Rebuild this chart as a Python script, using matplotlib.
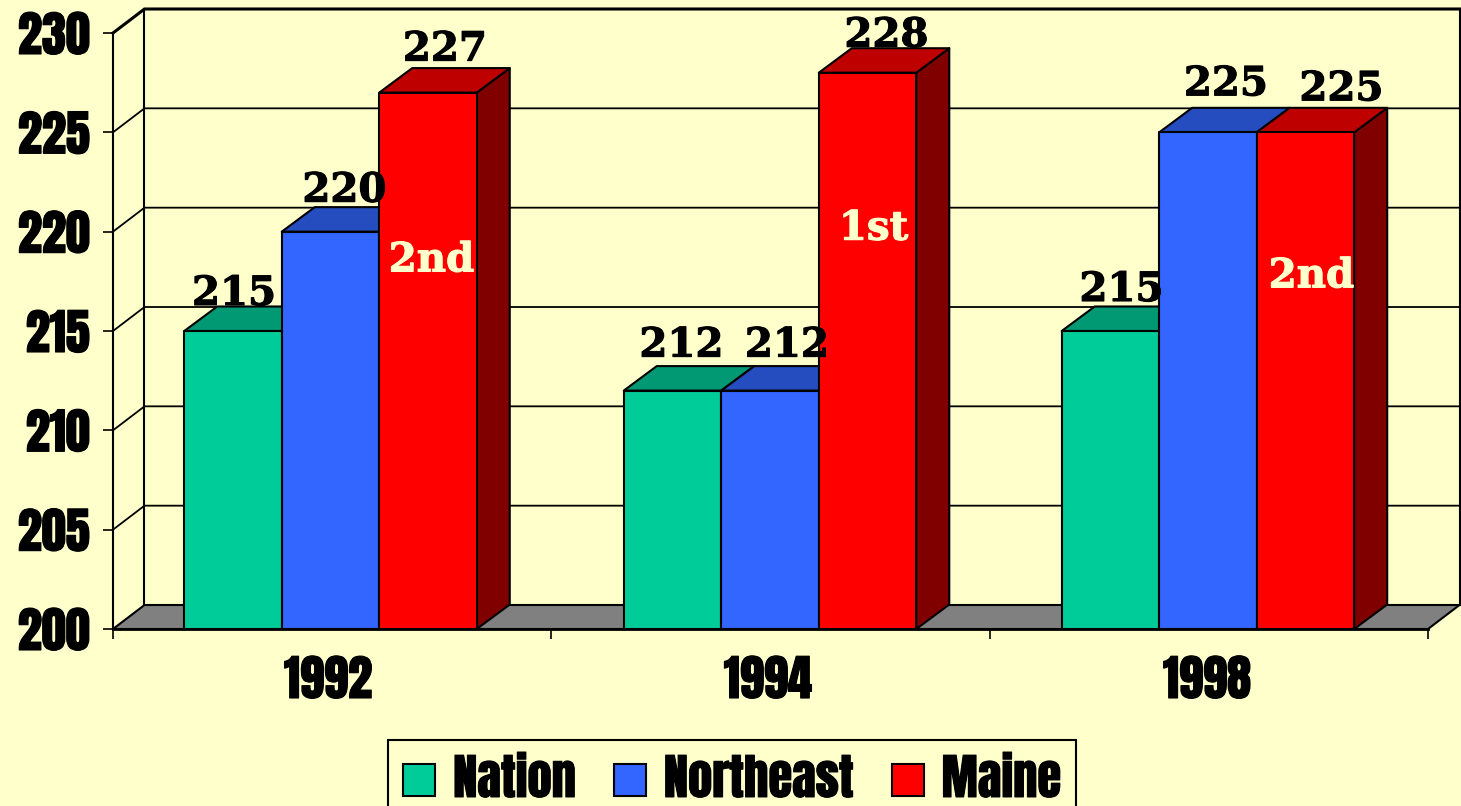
import matplotlib
matplotlib.use("Agg")
import matplotlib.pyplot as plt
from matplotlib.patches import Polygon, Patch
from matplotlib import font_manager as fm
import matplotlib.patheffects as pe

years = ["1992", "1994", "1998"]
series = ["Nation", "Northeast", "Maine"]
nation = [215, 212, 215]
northeast = [220, 212, 225]
maine = [227, 228, 225]
ranks = ["2nd", "1st", "2nd"]
rank_levels = [218.55, 220.15, 217.75]
front_colors = ["#00CC99", "#3366FF", "#FF0000"]
top_colors = ["#009973", "#264DBF", "#BF0000"]
side_colors = ["#007A5C", "#1F3D99", "#800000"]
group_centers = [-0.0038, 0.9989, 1.998]
year_positions = [-0.0095, 0.994, 1.996]
label_offsets_px = [[(1, 37), (14, 41), (17, 43)],
                    [(9, 45), (17, 45), (19, 37)],
                    [(11, 41), (18, 48), (36, 43)]]
rank_dx_px = [3.5, 6, 6]

W, H = 1461, 806
BG = "#FFFFCC"
L, R, T, B = 113, 1428, 33, 629
installed = {f.name for f in fm.fontManager.ttflist}
IMPACT = [n for n in ("Anton", "Liberation Sans") if n in installed]
SERIF = ["DejaVu Serif"]
PX = 0.72
IMPACT_SIZE = 35
impact_stroke = [pe.withStroke(linewidth=0.8, foreground="black")]

fig = plt.figure(figsize=(W / 100, H / 100), dpi=100, facecolor=BG)
ax = fig.add_axes([L / W, 1 - B / H, (R - L) / W, (B - T) / H], facecolor="none")
ax.set_xlim(-0.5, 2.5)
ax.set_ylim(200, 230)
ux = (R - L) / 3
uy = (B - T) / 30
wall_dx, wall_dy = 31.5 / ux, 24 / uy
bar_dx, bar_dy = 33 / ux, 24.5 / uy
bar_w = 97.5 / ux
lw = 1.5

x0, x1, y0, y1 = -0.5, 2.5, 200, 230
ax.add_patch(Polygon([(x0, y0), (x1, y0), (x1 + wall_dx, y0 + wall_dy), (x0 + wall_dx, y0 + wall_dy)],
                     closed=True, fc="#808080", ec="black", lw=lw, clip_on=False, zorder=1.5))
for v in range(205, 231, 5):
    ax.plot([x0, x0 + wall_dx, x1 + wall_dx], [v, v + wall_dy, v + wall_dy],
            color="black", lw=2.2 if v == 230 else 1.3, clip_on=False, zorder=1)
ax.plot([x0 + wall_dx] * 2, [y0 + wall_dy, y1 + wall_dy], color="black", lw=lw, clip_on=False, zorder=1)
ax.plot([x1 + wall_dx] * 2, [y0 + wall_dy, y1 + wall_dy], color="black", lw=lw, clip_on=False, zorder=1)

table = [nation, northeast, maine]
z = 3
for g in range(len(years)):
    for s in range(len(series)):
        v = table[s][g]
        a = group_centers[g] + (s - 1.5) * bar_w
        b = a + bar_w
        kw = dict(closed=True, ec="black", lw=lw, clip_on=False, joinstyle="round")
        ax.add_patch(Polygon([(b, y0), (b + bar_dx, y0 + bar_dy), (b + bar_dx, v + bar_dy), (b, v)],
                             fc=side_colors[s], zorder=z, **kw))
        ax.add_patch(Polygon([(a, v), (b, v), (b + bar_dx, v + bar_dy), (a + bar_dx, v + bar_dy)],
                             fc=top_colors[s], zorder=z, **kw))
        ax.add_patch(Polygon([(a, y0), (b, y0), (b, v), (a, v)],
                             fc=front_colors[s], zorder=z + 0.1, **kw))
        z += 0.2

serif_stroke = lambda col: [pe.withStroke(linewidth=0.8, foreground=col)]
for g in range(len(years)):
    for s in range(len(series)):
        v = table[s][g]
        c = group_centers[g] + (s - 1) * bar_w
        ox, oy = label_offsets_px[g][s]
        ax.annotate(str(v), (c, v), xytext=(ox * PX, oy * PX), textcoords="offset points",
                    ha="center", va="center", family=SERIF, weight="bold", fontsize=29,
                    color="black", zorder=20, annotation_clip=False, path_effects=serif_stroke("black"))
    ax.annotate(ranks[g], (group_centers[g] + bar_w, rank_levels[g]), xytext=(rank_dx_px[g] * PX, 0),
                textcoords="offset points", ha="center", va="center", family=SERIF,
                weight="bold", fontsize=29, color="#FFFFCC", zorder=20, path_effects=serif_stroke("#FFFFCC"))

for sp in ("top", "right"):
    ax.spines[sp].set_visible(False)
for sp in ("left", "bottom"):
    ax.spines[sp].set_linewidth(lw)
    ax.spines[sp].set_zorder(2)
ax.spines["bottom"].set_zorder(15)
ax.spines["bottom"].set_linewidth(2)

ax.set_yticks(range(200, 231, 5))
ax.set_xticks([-0.5, 0.5, 1.5, 2.5])
ax.set_xticklabels([])
ax.set_xticks(year_positions, minor=True)
ax.set_xticklabels(years, minor=True)
ax.tick_params(axis="x", which="major", length=10 * PX, width=1.2)
ax.tick_params(axis="x", which="minor", length=0, pad=27 * PX)
ax.tick_params(axis="y", length=10 * PX, width=1.2, pad=13 * PX)
for lab in ax.get_xticklabels(minor=True) + ax.get_yticklabels():
    lab.set_family(IMPACT)
    lab.set_fontsize(IMPACT_SIZE)
    lab.set_path_effects(impact_stroke)

handles = [Patch(fc=c, ec="black", lw=lw, label=n) for c, n in zip(front_colors, series)]
leg = fig.legend(handles=handles, loc="lower left", ncol=3, frameon=True, fancybox=False,
                 bbox_to_anchor=(388 / W, 1 - 818 / H), borderaxespad=0,
                 prop={"family": IMPACT, "size": IMPACT_SIZE},
                 handlelength=0.66, handleheight=0.62, handletextpad=0.37, columnspacing=0.78,
                 borderpad=0.31, facecolor=BG, edgecolor="black", framealpha=1)
leg.get_frame().set_linewidth(lw)
for t in leg.get_texts():
    t.set_path_effects(impact_stroke)

fig.savefig("out.png", dpi=100, facecolor=BG)
